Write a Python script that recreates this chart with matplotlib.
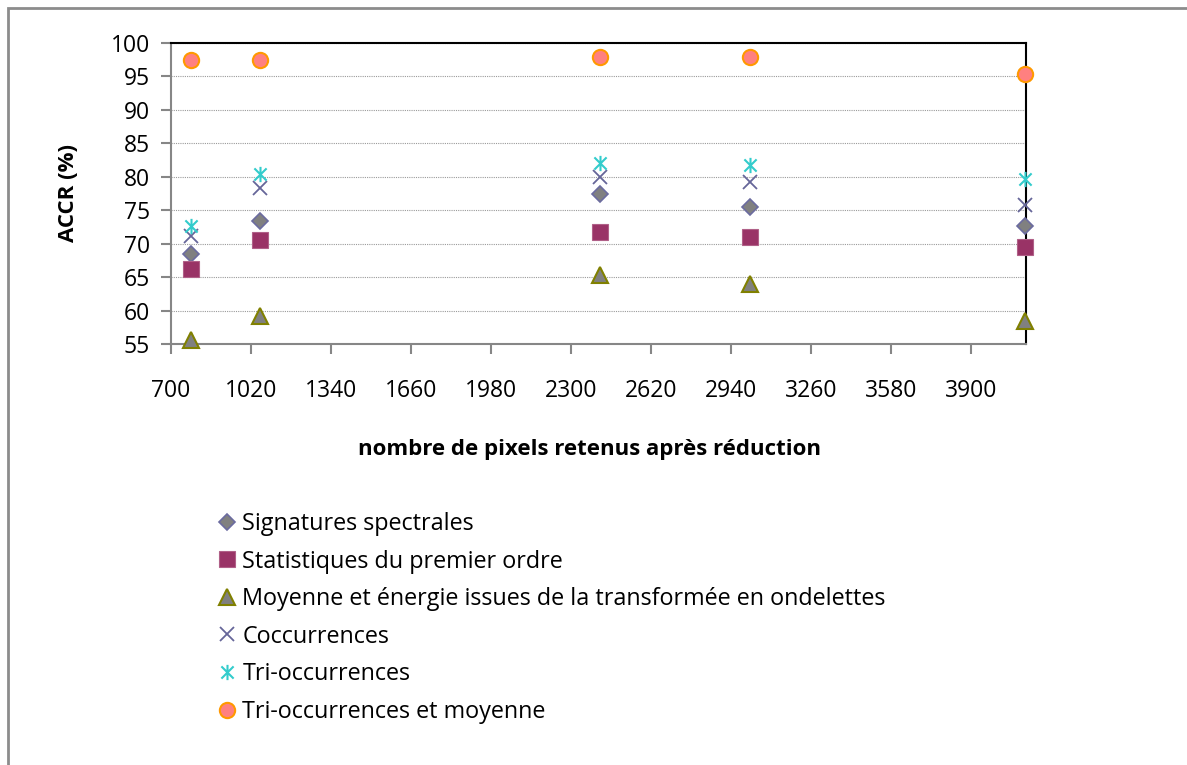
import matplotlib
matplotlib.use("Agg")
import matplotlib.pyplot as plt
from matplotlib.path import Path
from matplotlib.patches import Rectangle

plt.rcParams['font.family'] = ['Open Sans', 'DejaVu Sans']

# pixels kept after reduction
pixels = [780, 1057, 2416, 3016, 4116]

# ACCR (%) per descriptor
signatures = [68.4, 73.4, 77.4, 75.5, 72.7]
stats_ordre1 = [66.3, 70.6, 71.7, 71.0, 69.5]
ondelettes = [55.6, 59.2, 65.4, 64.0, 58.5]
coccurrences = [71.2, 78.3, 80.0, 79.2, 75.8]
tri_occ = [72.7, 80.4, 82.1, 81.8, 79.7]
tri_occ_moy = [97.4, 97.4, 97.9, 97.8, 95.3]

labels = ["Signatures spectrales",
          "Statistiques du premier ordre",
          "Moyenne et énergie issues de la transformée en ondelettes",
          "Coccurrences",
          "Tri-occurrences",
          "Tri-occurrences et moyenne"]

xticks = list(range(700, 4000, 320))
yticks = list(range(55, 101, 5))

# star marker: an X crossed by a vertical bar
star = Path([(-1, -1), (1, 1), (-1, 1), (1, -1), (0, -1.25), (0, 1.25)],
            [Path.MOVETO, Path.LINETO, Path.MOVETO, Path.LINETO,
             Path.MOVETO, Path.LINETO])

W, H = 1187, 765
fig = plt.figure(figsize=(W/100, H/100), dpi=100)
ax = fig.add_axes([171/W, 1-344.3/H, (1025.7-171)/W, (344.3-42.7)/H])

styles = [
    dict(marker='D', ms=8.5, mfc='#808080', mec='#6B6B9F', mew=1.2),
    dict(marker='s', ms=11, mfc='#993366', mec='#B06088', mew=0.8),
    dict(marker='^', ms=11, mfc='#808080', mec='#808000', mew=1.5),
    dict(marker='x', ms=10, mfc='none', mec='#666699', mew=1.3),
    dict(marker=star, ms=11, mfc='none', mec='#33CCCC', mew=1.5),
    dict(marker='o', ms=11, mfc='#FF8080', mec='#FF9900', mew=1.5),
]
series = [signatures, stats_ordre1, ondelettes, coccurrences, tri_occ, tri_occ_moy]

handles = []
for vals, st, lab in zip(series, styles, labels):
    h, = ax.plot(pixels, vals, linestyle='none', label=lab, clip_on=False,
                 zorder=3, **st)
    handles.append(h)

ax.set_xlim(700, 4119)
ax.set_ylim(55, 100)
ax.set_xticks(xticks)
ax.set_yticks(yticks)
ax.tick_params(axis='both', labelsize=16.5, color='#868686', length=7, width=1.5)
ax.tick_params(axis='x', pad=18)
ax.tick_params(axis='y', pad=8)
ax.grid(axis='y', color='#9A9A9A', linestyle=(0, (1, 1)), linewidth=0.8)
for s in ['left', 'bottom']:
    ax.spines[s].set_color('#868686')
    ax.spines[s].set_linewidth(1.5)
for s in ['top', 'right']:
    ax.spines[s].set_color('black')
    ax.spines[s].set_linewidth(1.5)

fig.text(589/W, 1-450/H, "nombre de pixels retenus après réduction",
         ha='center', va='center', fontsize=16, fontweight='bold')
fig.text(68/W, 1-193/H, "ACCR (%)", ha='center', va='center',
         rotation=90, fontsize=16, fontweight='bold')

fig.legend(handles=handles, loc='upper left',
           bbox_to_anchor=(218/W, 1-512/H), frameon=False, fontsize=16.8,
           handlelength=0.8, handletextpad=0.25, labelspacing=0.58,
           borderaxespad=0, borderpad=0)

# outer chart-area frame
fig.patches.append(Rectangle((8/W, -0.1), 1.2, 1-8/H+0.1,
                             transform=fig.transFigure, fill=False,
                             edgecolor='#8C8C8C', linewidth=2))

fig.savefig("out.png", dpi=100)
